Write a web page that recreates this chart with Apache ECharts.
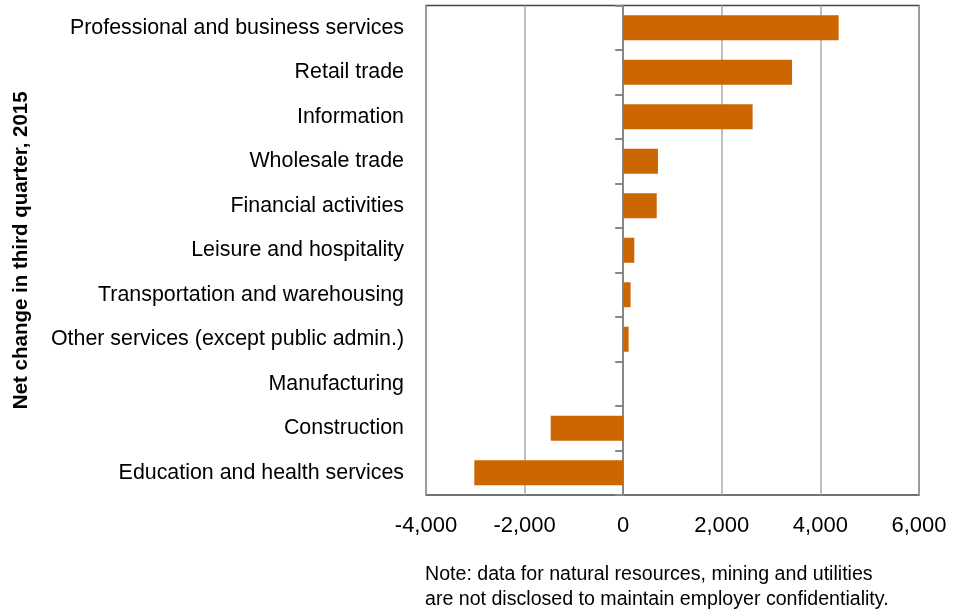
<!DOCTYPE html>
<html>
<head>
<meta charset="utf-8">
<script src="https://cdn.jsdelivr.net/npm/echarts@6/dist/echarts.min.js"></script>
<style>html,body{margin:0;padding:0;background:#fff}#c{width:962px;height:615px}</style>
</head>
<body>
<div id="c"></div>
<script>
var categories = [
  "Professional and business services",
  "Retail trade",
  "Information",
  "Wholesale trade",
  "Financial activities",
  "Leisure and hospitality",
  "Transportation and warehousing",
  "Other services (except public admin.)",
  "Manufacturing",
  "Construction",
  "Education and health services"
];
var netChange = [4370, 3425, 2625, 705, 680, 225, 150, 110, 0, -1470, -3020];
var xTicks = { min: -4000, max: 6000, interval: 2000 };
var axisTitle = "Net change in third quarter, 2015";
var noteLines = [
  "Note: data for natural resources, mining and utilities",
  "are not disclosed to maintain employer confidentiality."
];

var FONT = "'Liberation Sans Narrow', 'Liberation Sans', Arial, sans-serif";
var chart = echarts.init(document.getElementById('c'), null, { renderer: 'canvas' });
chart.setOption({
  animation: false,
  backgroundColor: '#fff',
  textStyle: { fontFamily: FONT },
  title: {
    text: noteLines.join('\n'),
    left: 425, top: 562.5, padding: 0,
    textStyle: { fontFamily: FONT, fontSize: 19.6, fontWeight: 'normal', color: '#000', lineHeight: 25 }
  },
  grid: { left: 426, right: 43, top: 5.5, bottom: 120, show: true, borderColor: '#444', borderWidth: 1.5, containLabel: false, outerBoundsMode: 'none' },
  xAxis: {
    type: 'value', min: xTicks.min, max: xTicks.max, interval: xTicks.interval,
    axisLine: { show: false }, axisTick: { show: false },
    splitLine: { show: true, lineStyle: { color: '#aaa', width: 1.5 } },
    axisLabel: {
      margin: 19.5, fontSize: 22, color: '#000', fontFamily: FONT,
      formatter: function (v) { return v.toLocaleString('en-US'); }
    }
  },
  yAxis: [
    {
      type: 'category', data: categories, inverse: true,
      axisLine: { show: true, onZero: true, lineStyle: { color: '#888', width: 2 } },
      axisTick: { show: true, inside: false, length: 8, lineStyle: { color: '#888', width: 2 } },
      axisLabel: { show: false },
      splitLine: { show: false }
    },
    {
      type: 'category', data: categories, inverse: true, position: 'left',
      axisLine: { show: false, onZero: false }, axisTick: { show: false },
      axisLabel: { show: true, margin: 22, fontSize: 21.4, color: '#000', fontFamily: FONT },
      name: axisTitle, nameLocation: 'middle', nameRotate: 90, nameGap: 394,
      nameTextStyle: { fontFamily: FONT, fontSize: 20.5, fontWeight: 'bold', color: '#000' }
    }
  ],
  series: [{
    type: 'bar', yAxisIndex: 0, data: netChange, barWidth: 25,
    itemStyle: { color: '#cc6600' }
  }]
});
</script>
</body>
</html>
